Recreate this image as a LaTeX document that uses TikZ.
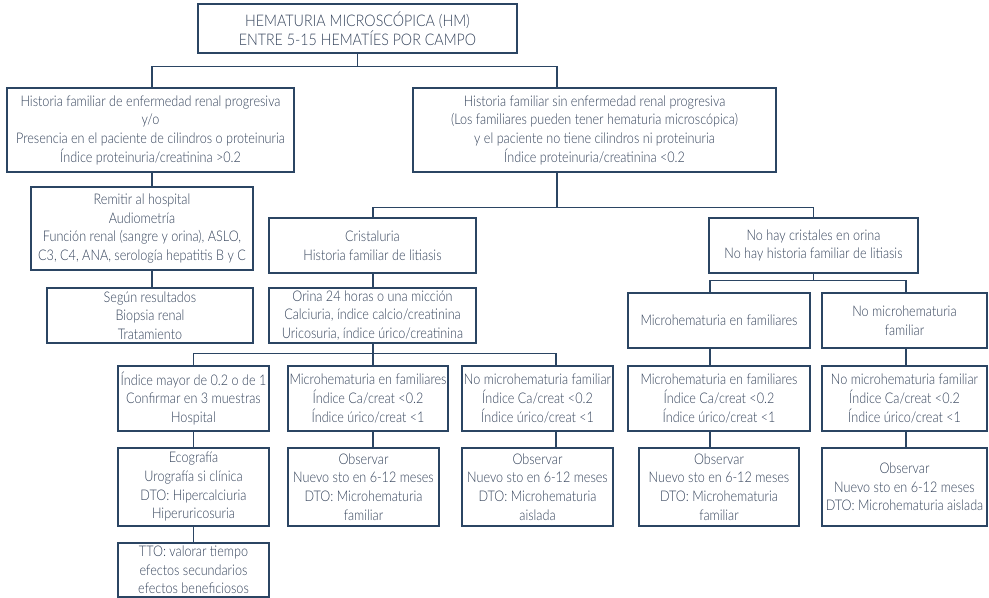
\documentclass[tikz,border=0pt]{standalone}
\usepackage{fontspec}
\setmainfont{Lato Light}[FakeStretch=0.86]
\newfontfamily\headfont{Lato Light}[FakeStretch=0.89]
\definecolor{edge}{HTML}{2B4563}
\definecolor{ink}{HTML}{33425A}
\tikzset{
  box/.style={draw=edge, line width=0.9pt, inner sep=0pt, align=center, text=ink,
    font=\fontsize{11}{14}\selectfont},
  headbox/.style={box, font=\headfont\fontsize{12}{14.3}\selectfont},
  link/.style={draw=edge, line width=0.9pt},
}
% box given by its corners (x1,y1) and (x2,y2)
\newcommand\boxat[7][box]{\node[#1, minimum width={(#5-#3)*0.75pt}, minimum height={(#6-#4)*0.75pt}] (#2) at ({(#3+#5)/2},{(#4+#6)/2}) {#7};}
\begin{document}
\begin{tikzpicture}[x=0.75pt, y=-0.75pt]
\fill[white] (0,0) rectangle (989,598);
\useasboundingbox (0,0) rectangle (989,598);

\boxat[headbox]{top}{198}{4}{517}{53}{HEMATURIA MICROSCÓPICA (HM)\\ENTRE 5-15 HEMATÍES POR CAMPO}
\boxat{A}{7}{88}{294}{172}{Historia familiar de enfermedad renal progresiva\\y/o\\Presencia en el paciente de cilindros o proteinuria\\Índice proteinuria/creatinina >0.2}
\boxat{B}{413}{88}{776}{172}{Historia familiar sin enfermedad renal progresiva\\(Los familiares pueden tener hematuria microscópica)\\y el paciente no tiene cilindros ni proteinuria\\Índice proteinuria/creatinina <0.2}
\boxat{R}{31}{187}{253}{270}{Remitir al hospital\\Audiometría\\Función renal (sangre y orina), ASLO,\\C3, C4, ANA, serología hepatitis B y C}
\boxat{S}{47}{288}{253}{343}{Según resultados\\Biopsia renal\\Tratamiento}
\boxat{K}{269}{218}{476}{273}{Cristaluria\\Historia familiar de litiasis}
\boxat{O}{269}{288}{476}{343}{Orina 24 horas o una micción\\Calciuria, índice calcio/creatinina\\Uricosuria, índice úrico/creatinina}
\boxat{N}{709}{218}{918}{273}{No hay cristales en orina\\No hay historia familiar de litiasis}
\boxat{D1}{628}{293}{810}{348}{Microhematuria en familiares}
\boxat{D2}{822}{293}{987}{348}{No microhematuria\\familiar}
\boxat{C1}{118}{366}{269}{431}{Índice mayor de 0.2 o de 1\\Confirmar en 3 muestras\\Hospital}
\boxat{C2}{288}{366}{448}{431}{Microhematuria en familiares\\Índice Ca/creat <0.2\\Índice úrico/creat <1}
\boxat{C3}{462}{366}{613}{431}{No microhematuria familiar\\Índice Ca/creat <0.2\\Índice úrico/creat <1}
\boxat{E1}{628}{366}{810}{431}{Microhematuria en familiares\\Índice Ca/creat <0.2\\Índice úrico/creat <1}
\boxat{E2}{822}{366}{987}{431}{No microhematuria familiar\\Índice Ca/creat <0.2\\Índice úrico/creat <1}
\boxat{G1}{118}{448}{269}{526}{Ecografía\\Urografía si clínica\\DTO: Hipercalciuria\\Hiperuricosuria}
\boxat{G2}{288}{448}{439}{526}{Observar\\Nuevo sto en 6-12 meses\\DTO: Microhematuria\\familiar}
\boxat{G3}{462}{448}{613}{526}{Observar\\Nuevo sto en 6-12 meses\\DTO: Microhematuria\\aislada}
\boxat{F1}{639}{448}{799}{526}{Observar\\Nuevo sto en 6-12 meses\\DTO: Microhematuria\\familiar}
\boxat{F2}{822}{448}{987}{526}{Observar\\Nuevo sto en 6-12 meses\\DTO: Microhematuria aislada}
\boxat{H1}{118}{543}{269}{597}{TTO: valorar tiempo\\efectos secundarios\\efectos beneficiosos}

% vertical runs of the connectors
\coordinate (xA) at (152,0);
\coordinate (xB) at (557,0);
\coordinate (xO) at (373,0);
\coordinate (xC3) at (556,0);
\coordinate (xD1) at (710,0);
\coordinate (xD2) at (906,0);

\draw[link] (top.south) -- ++(0,13) coordinate (j1);
\draw[link] (A.north -| xA) |- (j1) -| (B.north -| xB);
\draw[link] (A.south -| xA) -- (R.north -| xA);
\draw[link] (R.south -| xA) -- (S.north -| xA);

\draw[link] (B.south -| xB) -- ++(0,35) coordinate (j2);
\draw[link] (K.north -| xO) |- (j2) -| (N.north);
\draw[link] (K.south -| xO) -- (O.north -| xO);

\draw[link] (O.south -| xO) -- ++(0,10) coordinate (j3);
\draw[link] (C1.north) |- (j3) -| (C3.north -| xC3);
\draw[link] (j3) -- (C2.north -| xO);
\draw[link] (C1.south) -- (G1.north);
\draw[link] (G1.south) -- (H1.north);
\draw[link] (C2.south -| xO) -- (G2.north -| xO);
\draw[link] (C3.south -| xC3) -- (G3.north -| xC3);

\draw[link] (N.south) -- ++(0,7) coordinate (j4);
\draw[link] (D1.north -| xD1) |- (j4) -| (D2.north -| xD2);
\draw[link] (D1.south -| xD1) -- (E1.north -| xD1);
\draw[link] (E1.south -| xD1) -- (F1.north -| xD1);
\draw[link] (D2.south -| xD2) -- (E2.north -| xD2);
\draw[link] (E2.south -| xD2) -- (F2.north -| xD2);
\end{tikzpicture}
\end{document}
